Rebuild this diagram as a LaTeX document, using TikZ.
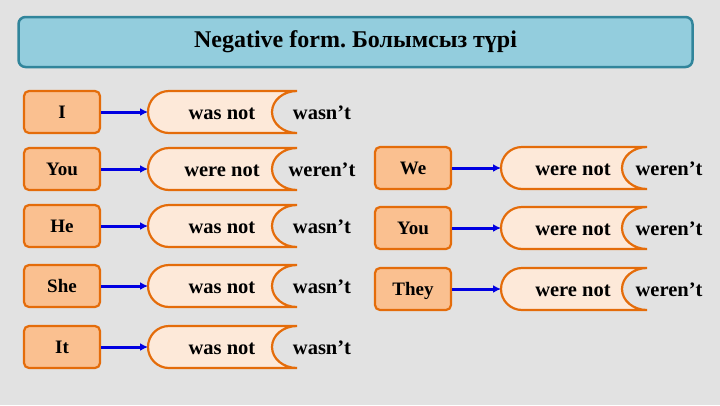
\documentclass[tikz,border=0pt]{standalone}
\usepackage{fontspec}
\setmainfont{Liberation Serif}
\frenchspacing
\usetikzlibrary{arrows.meta}

\definecolor{bggray}{RGB}{226,226,226}
\definecolor{titlefill}{RGB}{147,205,221}
\definecolor{titleline}{RGB}{49,133,155}
\definecolor{pronfill}{RGB}{250,192,144}
\definecolor{orangeline}{RGB}{228,108,10}
\definecolor{scrollfill}{RGB}{253,233,217}
\definecolor{arrowblue}{RGB}{0,0,225}

\tikzset{
  pron/.style={draw=orangeline, fill=pronfill, line width=2.2pt, rounded corners=5pt,
    minimum width=76pt, minimum height=42pt, text height=14pt, text depth=1.5pt,
    font=\bfseries\fontsize{19}{21}\selectfont},
  verb/.style={text height=17pt, text depth=1.6pt, font=\bfseries\fontsize{20.5}{22}\selectfont},
  scroll/.style={draw=orangeline, fill=scrollfill, line width=2.2pt},
  link/.style={arrowblue, line width=3pt, -{Latex[length=8pt,width=8pt]}}
}

% scroll: left x, right x, centre y, name of its left tip
\newcommand{\scrollat}[4]{%
  \draw[scroll] (#2,#3-21) -- (#1+21,#3-21)
    arc[start angle=270, end angle=90, radius=21] -- (#2,#3+21)
    arc[start angle=90, end angle=270, x radius=25, y radius=21] -- cycle;
  \coordinate (#4) at (#1,#3);
}

\begin{document}
\begin{tikzpicture}[x=1pt, y=-1pt]
    \fill[bggray] (0,0) rectangle (720,405);

    \node[draw=titleline, fill=titlefill, line width=2.5pt, rounded corners=7pt,
      minimum width=674pt, minimum height=50pt,
      font=\bfseries\fontsize{24}{26}\selectfont] (title) at (355.5,42)
      {Negative form. Болымсыз түрі};

    % left column
    \foreach \name/\pr/\cy/\lng/\shrt in {i/I/112/was not/wasn’t, you/You/169/were not/weren’t,
        he/He/226/was not/wasn’t, she/She/286/was not/wasn’t, it/It/347/was not/wasn’t} {
      \node[pron] (p-\name) at (62,\cy) {\pr};
      \scrollat{148}{297}{\cy}{s-\name}
      \node[verb] (v-\name) at (222,\cy) {\lng};
      \node[verb] (c-\name) at (322,\cy) {\shrt};
      \draw[link] (p-\name) -- (s-\name);
    }

    % right column
    \foreach \name/\pr/\cy/\lng/\shrt in {we/We/168/were not/weren’t,
        yous/You/228/were not/weren’t, they/They/289/were not/weren’t} {
      \node[pron] (p-\name) at (413,\cy) {\pr};
      \scrollat{501}{647}{\cy}{s-\name}
      \node[verb] (v-\name) at (573,\cy) {\lng};
      \node[verb] (c-\name) at (669,\cy) {\shrt};
      \draw[link] (p-\name) -- (s-\name);
    }
\end{tikzpicture}
\end{document}
